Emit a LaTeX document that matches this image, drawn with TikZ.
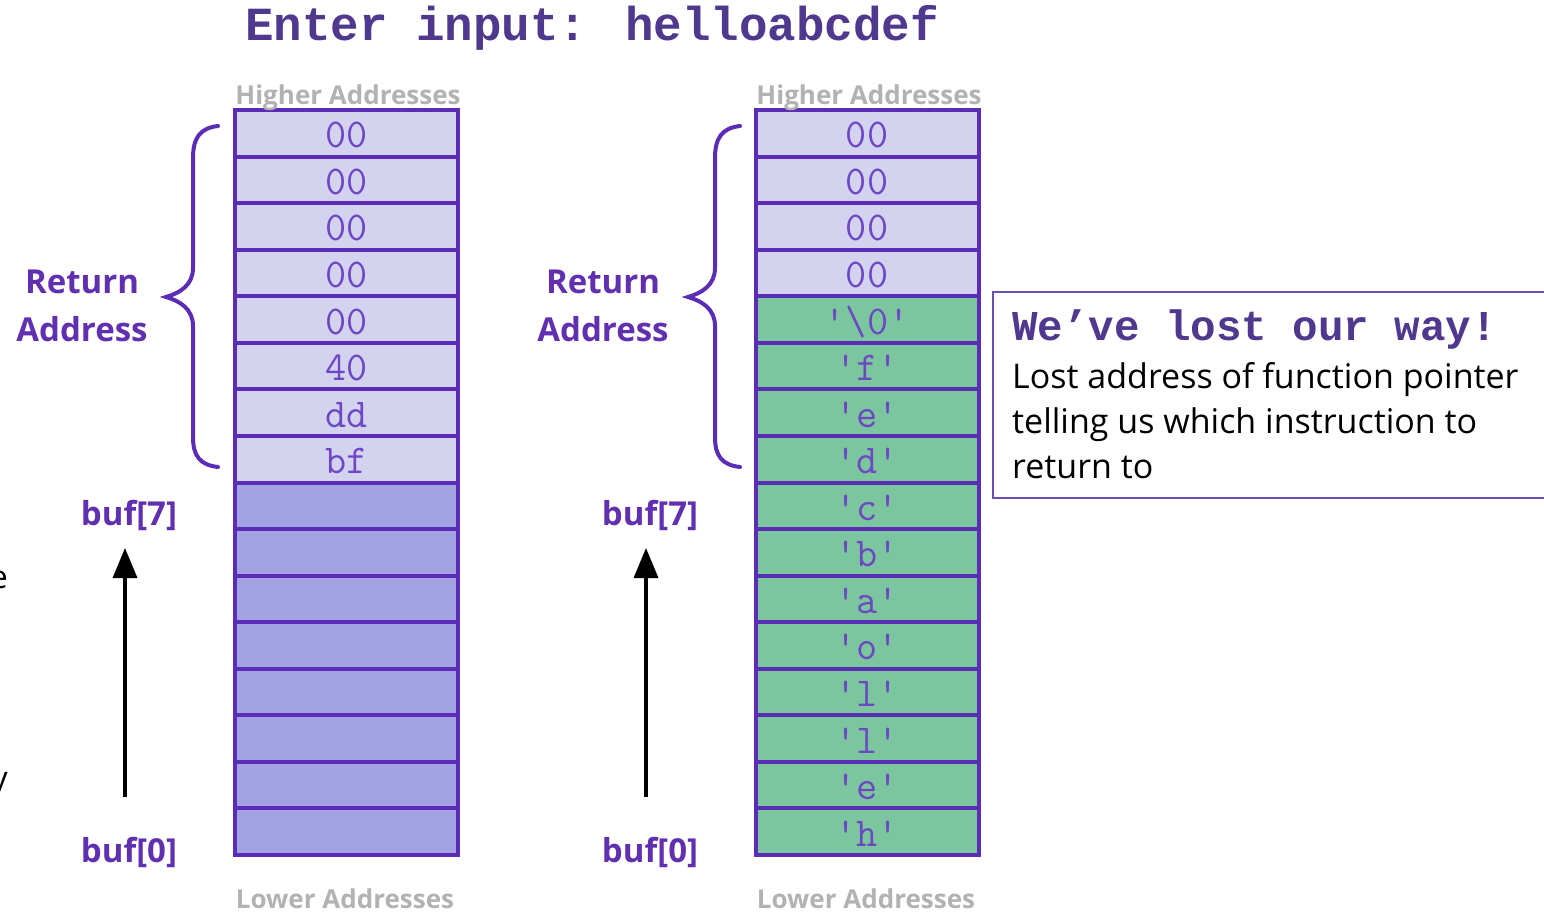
\documentclass[tikz,border=0pt]{standalone}
\usepackage{fontspec}
\setmainfont{Open Sans}
\newfontfamily\monof{Liberation Mono}
\usetikzlibrary{arrows.meta}

\definecolor{cellborder}{RGB}{91,44,181}
\definecolor{cellpale}{RGB}{211,211,240}
\definecolor{celldeep}{RGB}{163,163,227}
\definecolor{cellgreen}{RGB}{123,198,158}
\definecolor{celltext}{RGB}{110,72,196}
\definecolor{titlepurple}{RGB}{80,56,143}
\definecolor{labelpurple}{RGB}{96,48,176}
\definecolor{addrgray}{RGB}{178,178,178}
\definecolor{boxline}{RGB}{106,80,176}

\newcommand\chq[1]{\textquotesingle#1\textquotesingle}

\tikzset{
  cell/.style={draw=cellborder, line width=4pt, minimum width=223pt,
    minimum height=46.56pt, inner sep=0pt, outer sep=0pt, text=celltext,
    text height=31pt, text depth=2pt,
    font=\ttfamily\fontsize{41}{41}\selectfont},
  addr/.style={text=addrgray, font=\bfseries\fontsize{26}{26}\selectfont, inner sep=0pt},
  side/.style={text=labelpurple, font=\bfseries\fontsize{33}{48}\selectfont,
    align=center, inner sep=0pt},
  brace/.style={draw=cellborder, line width=4pt, line cap=round},
  growth/.style={line width=3.5pt, -{Triangle[length=30pt,width=24pt]}},
}

\begin{document}
\begin{tikzpicture}[x=1pt,y=-1pt]
\clip (0,0) rectangle (1544,913);
\fill[white] (0,0) rectangle (1544,913);

% heading
\node[text=titlepurple, font=\monof\bfseries\fontsize{47.5}{47.5}\selectfont, inner sep=0pt]
  (title) at (592,28) {Enter input: helloabcdef};

% left stack: return address bytes above an empty buffer
\foreach \i/\t in {0/00,1/00,2/00,3/00,4/00,5/40,6/dd,7/bf}
  \node[cell, fill=cellpale] (L\i) at (346.5,{110+46.5625*\i+23.28}) {\t};
\foreach \i in {8,...,15}
  \node[cell, fill=celldeep] (L\i) at (346.5,{110+46.5625*\i+23.28}) {};

% right stack: the input string has run over the return address
\foreach \i/\t in {0/00,1/00,2/00,3/00}
  \node[cell, fill=cellpale] (R\i) at (867,{110+46.5625*\i+23.28}) {\t};
\foreach \i/\t in {4/\textbackslash 0,5/f,6/e,7/d,8/c,9/b,10/a,11/o,12/l,13/l,14/e,15/h}
  \node[cell, fill=cellgreen] (R\i) at (867,{110+46.5625*\i+23.28}) {\chq{\t}};

% address direction labels
\node[addr] (hiL) at (348,98) {Higher Addresses};
\node[addr] (loL) at (345,899) {Lower Addresses};
\node[addr] (hiR) at (869,98) {Higher Addresses};
\node[addr] (loR) at (866,899) {Lower Addresses};

% return address labels and braces
\node[side] (retL) at (82,306) {Return\\Address};
\node[side] (retR) at (603,306) {Return\\Address};
\foreach \dx in {0,522}
  \draw[brace, xshift=\dx] (218,126) .. controls (200,128) and (193,138) .. (193,158)
    -- (193,268) .. controls (193,285) and (180,293) .. (166,297)
    .. controls (180,301) and (193,309) .. (193,326)
    -- (193,437) .. controls (193,456) and (200,465) .. (218,467);

% buffer bounds with growth arrows
\node[side] (b7L) at (129,515) {buf[7]};
\node[side] (b0L) at (129,852) {buf[0]};
\node[side] (b7R) at (650,515) {buf[7]};
\node[side] (b0R) at (650,852) {buf[0]};
\coordinate (aLlo) at (125,797);
\coordinate (aLhi) at (125,548);
\coordinate (aRlo) at (646,797);
\coordinate (aRhi) at (646,548);
\draw[growth] (aLlo) -- (aLhi);
\draw[growth] (aRlo) -- (aRhi);

% callout
\node[draw=boxline, line width=1.5pt, minimum width=580pt, minimum height=206pt,
  anchor=north west, inner sep=0pt] (note) at (992,291) {};
\node[anchor=west, text=titlepurple, inner sep=0pt,
  font=\monof\bfseries\fontsize{42.5}{42.5}\selectfont] (noteh) at (1012,330) {We’ve lost our way!};
\node[anchor=north west, inner sep=0pt, align=left,
  font=\fontsize{34}{45}\selectfont] (notet) at (1012,362)
  {Lost address of function pointer\\telling us which instruction to\\return to};

% text running in from the left margin
\node[anchor=east, inner sep=0pt, font=\fontsize{32}{32}\selectfont] (edge1) at (8,580) {e};
\node[anchor=east, inner sep=0pt, font=\fontsize{32}{32}\selectfont] (edge2) at (8,785) {y};
\end{tikzpicture}
\end{document}
